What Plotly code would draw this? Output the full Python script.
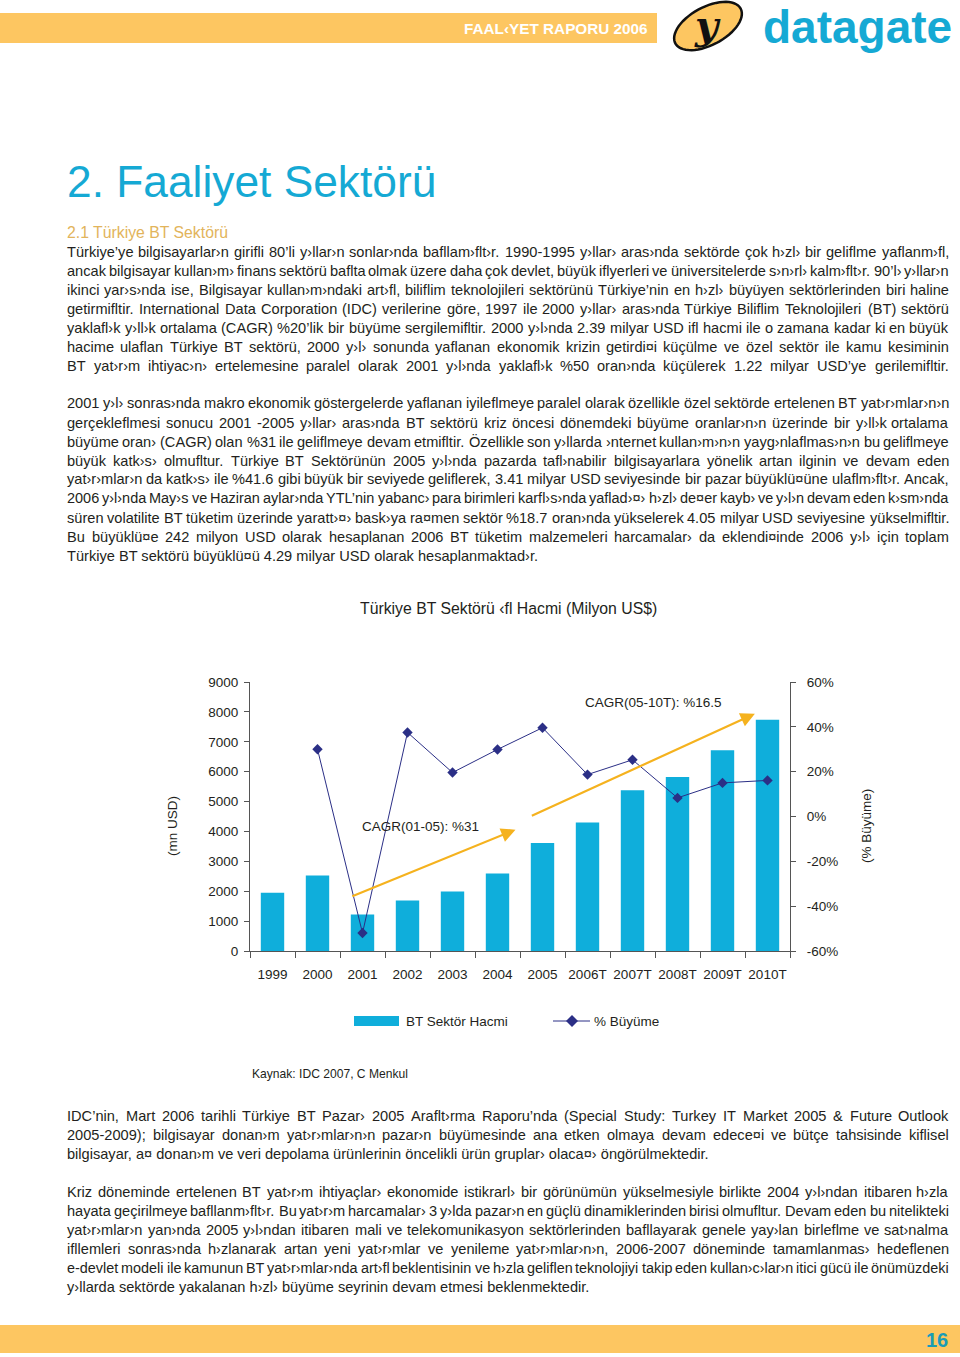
import numpy as np
import plotly.graph_objects as go

# ---------------- data ----------------
years = ["1999", "2000", "2001", "2002", "2003", "2004", "2005",
         "2006T", "2007T", "2008T", "2009T", "2010T"]
volume = [1950, 2530, 1220, 1690, 1990, 2590, 3610, 4300, 5380, 5820, 6720, 7740]
growth = [None, 30.0, -52.0, 37.5, 19.6, 29.9, 39.6, 18.7, 25.3, 8.3, 15.0, 16.1]
left_ticks = list(range(0, 9001, 1000))
right_ticks = [-60, -40, -20, 0, 20, 40, 60]
right_labels = ["-60%", "-40%", "-20%", "0%", "20%", "40%", "60%"]

para1 = [
    "Türkiye’ye bilgisayarlar›n girifli 80’li y›llar›n sonlar›nda bafllam›flt›r. 1990-1995 y›llar› aras›nda sektörde çok h›zl› bir geliflme yaflanm›fl,",
    "ancak bilgisayar kullan›m› finans sektörü baflta olmak üzere daha çok devlet, büyük iflyerleri ve üniversitelerde s›n›rl› kalm›flt›r. 90’l› y›llar›n",
    "ikinci yar›s›nda ise, Bilgisayar kullan›m›ndaki art›fl, biliflim teknolojileri sektörünü Türkiye’nin en h›zl› büyüyen sektörlerinden biri haline",
    "getirmifltir. International Data Corporation (IDC) verilerine göre, 1997 ile 2000 y›llar› aras›nda Türkiye Biliflim Teknolojileri (BT) sektörü",
    "yaklafl›k y›ll›k ortalama (CAGR) %20’lik bir büyüme sergilemifltir. 2000 y›l›nda 2.39 milyar USD ifl hacmi ile o zamana kadar ki en büyük",
    "hacime ulaflan Türkiye BT sektörü, 2000 y›l› sonunda yaflanan ekonomik krizin getirdi¤i küçülme ve özel sektör ile kamu kesiminin",
    "BT yat›r›m ihtiyac›n› ertelemesine paralel olarak 2001 y›l›nda yaklafl›k %50 oran›nda küçülerek 1.22 milyar USD’ye gerilemifltir.",
]
para2 = [
    "2001 y›l› sonras›nda makro ekonomik göstergelerde yaflanan iyileflmeye paralel olarak özellikle özel sektörde ertelenen BT yat›r›mlar›n›n",
    "gerçekleflmesi sonucu 2001 -2005 y›llar› aras›nda BT sektörü kriz öncesi dönemdeki büyüme oranlar›n›n üzerinde bir y›ll›k ortalama",
    "büyüme oran› (CAGR) olan %31 ile geliflmeye devam etmifltir. Özellikle son y›llarda ›nternet kullan›m›n›n yayg›nlaflmas›n›n bu geliflmeye",
    "büyük katk›s› olmufltur. Türkiye BT Sektörünün 2005 y›l›nda pazarda tafl›nabilir bilgisayarlara yönelik artan ilginin ve devam eden",
    "yat›r›mlar›n da katk›s› ile %41.6 gibi büyük bir seviyede geliflerek, 3.41 milyar USD seviyesinde bir pazar büyüklü¤üne ulaflm›flt›r. Ancak,",
    "2006 y›l›nda May›s ve Haziran aylar›nda YTL’nin yabanc› para birimleri karfl›s›nda yaflad›¤› h›zl› de¤er kayb› ve y›l›n devam eden k›sm›nda",
    "süren volatilite BT tüketim üzerinde yaratt›¤› bask›ya ra¤men sektör %18.7 oran›nda yükselerek 4.05 milyar USD seviyesine yükselmifltir.",
    "Bu büyüklü¤e 242 milyon USD olarak hesaplanan 2006 BT tüketim malzemeleri harcamalar› da eklendi¤inde 2006 y›l› için toplam",
    "Türkiye BT sektörü büyüklü¤ü 4.29 milyar USD olarak hesaplanmaktad›r.",
]
para3 = [
    "IDC’nin, Mart 2006 tarihli Türkiye BT Pazar› 2005 Araflt›rma Raporu’nda (Special Study: Turkey IT Market 2005 & Future Outlook",
    "2005-2009); bilgisayar donan›m yat›r›mlar›n›n pazar›n büyümesinde ana etken olmaya devam edece¤i ve bütçe tahsisinde kiflisel",
    "bilgisayar, a¤ donan›m ve veri depolama ürünlerinin öncelikli ürün gruplar› olaca¤› öngörülmektedir.",
]
para4 = [
    "Kriz döneminde ertelenen BT yat›r›m ihtiyaçlar› ekonomide istikrarl› bir görünümün yükselmesiyle birlikte 2004 y›l›ndan itibaren h›zla",
    "hayata geçirilmeye bafllanm›flt›r. Bu yat›r›m harcamalar› 3 y›lda pazar›n en güçlü dinamiklerinden birisi olmufltur. Devam eden bu nitelikteki",
    "yat›r›mlar›n yan›nda 2005 y›l›ndan itibaren mali ve telekomunikasyon sektörlerinden bafllayarak genele yay›lan birleflme ve sat›nalma",
    "ifllemleri sonras›nda h›zlanarak artan yeni yat›r›mlar ve yenileme yat›r›mlar›n›n, 2006-2007 döneminde tamamlanmas› hedeflenen",
    "e-devlet modeli ile kamunun BT yat›r›mlar›nda art›fl beklentisinin ve h›zla geliflen teknolojiyi takip eden kullan›c›lar›n itici gücü ile önümüzdeki",
    "y›llarda sektörde yakalanan h›zl› büyüme seyrinin devam etmesi beklenmektedir.",
]

# ---------------- styling ----------------
W_PX, H_PX = 960, 1357
FONT = "Liberation Sans, Arial, Helvetica, sans-serif"
BODY = "#231F20"
CYAN = "#15A9D4"
BAR = "#0FAEDB"
NAVY = "#2B2F86"
ORANGE = "#F5B21E"
BAND = "#FDC661"
AXIS = "#555555"
BODY_FS = 14.6


def X(px):
    return px / W_PX


def Y(py):
    return 1 - py / H_PX


# Arial / Liberation Sans advance widths (1/1000 em)
AW = {}
for chars, w in [("'", 191), ("ijl’‘", 222), (" !,./:;I[]\\ft", 278), ("()-r`›‹", 333),
                 ('"', 355), ("*", 389), ("ckJsvxyzç", 500),
                 ("0123456789$#?_abdeghnopqüöuL¤", 556), ("+<=>", 584), ("FTZ", 611),
                 ("ABEKPSVXY&", 667), ("wCDHNRUÇÜ", 722), ("GOQÖ", 778), ("mM", 833),
                 ("%", 889), ("W", 944), ("@", 1015)]:
    for c in chars:
        AW[c] = w


def tw(s):
    return sum(AW.get(c, 556) for c in s) / 1000.0


annotations = []


def esc(s):
    return s.replace("&", "&amp;")


def txt(x, y, s, size, anchor="left", color=BODY, **kw):
    d = dict(x=X(x), y=Y(y), xref="paper", yref="paper", text=esc(s), showarrow=False,
             xanchor=anchor, yanchor="middle", borderpad=0, borderwidth=0,
             font=dict(family=kw.pop("family", FONT), size=size, color=color,
                       **kw.pop("fontkw", {})))
    d.update(kw)
    annotations.append(d)


def line_of_text(s, y, justify=True, fs=BODY_FS, left=67, right=949):
    words = s.split()
    if not justify or len(words) < 2:
        txt(left, y, s, fs)
        return
    ww = [tw(w) for w in words]
    avail = right - left
    size = fs
    gap = (avail - sum(ww) * size) / (len(words) - 1)
    if gap < 0.2 * size:
        size = avail / (sum(ww) + 0.2 * (len(words) - 1))
        gap = 0.2 * size
    x = left
    for i, (w, wd) in enumerate(zip(words, ww)):
        if i == len(words) - 1:
            txt(right, y, w, size, anchor="right")
        else:
            txt(x, y, w, size, anchor="left")
        x += wd * size + gap


def paragraph(lines, y0, last_justified=False, step=19.0):
    for i, s in enumerate(lines):
        last = i == len(lines) - 1
        line_of_text(s, y0 + i * step, justify=(not last) or last_justified)


# ---------------- figure ----------------
fig = go.Figure()
fig.add_trace(go.Bar(x=years, y=volume, name="BT Sektör Hacmi", marker=dict(color=BAR, line=dict(width=0)),
                     width=0.52, xaxis="x", yaxis="y", showlegend=False))
fig.add_trace(go.Scatter(x=years, y=growth, name="% Büyüme", mode="lines+markers",
                         line=dict(color=NAVY, width=1),
                         marker=dict(symbol="diamond", size=8, color=NAVY),
                         xaxis="x", yaxis="y2", showlegend=False))

# chart annotations (data coordinates)
annotations.append(dict(x=5.40, y=4060, ax=1.74, ay=1810, xref="x", yref="y", axref="x", ayref="y",
                        text="", showarrow=True, arrowhead=2, arrowsize=1.3, arrowwidth=2.2,
                        arrowcolor=ORANGE, standoff=0, startstandoff=0))
annotations.append(dict(x=10.72, y=7940, ax=5.73, ay=4500, xref="x", yref="y", axref="x", ayref="y",
                        text="", showarrow=True, arrowhead=2, arrowsize=1.3, arrowwidth=2.2,
                        arrowcolor=ORANGE, standoff=0, startstandoff=0))
annotations.append(dict(x=3.28, y=4180, xref="x", yref="y", text="CAGR(01-05): %31", showarrow=False,
                        font=dict(family=FONT, size=13.5, color=BODY)))
annotations.append(dict(x=8.46, y=8330, xref="x", yref="y", text="CAGR(05-10T): %16.5", showarrow=False,
                        font=dict(family=FONT, size=13.5, color=BODY)))

# page text
txt(648, 28, "FAAL‹YET RAPORU 2006", 15.3, anchor="right", color="white", fontkw=dict(weight="bold"))
txt(952, 27, "datagate", 46, anchor="right", color=CYAN, fontkw=dict(weight="bold"))
txt(707, 25, "y", 40, anchor="center", color="#111111", family="DejaVu Serif, serif",
    fontkw=dict(weight="bold", style="italic"))
txt(67, 181, "2. Faaliyet Sektörü", 44.3, color=CYAN)
txt(67, 232, "2.1 Türkiye BT Sektörü", 15.8, color="#E2B45B")
paragraph(para1, 252, last_justified=True)
paragraph(para2, 403.5)
txt(509, 608, "Türkiye BT Sektörü ‹fl Hacmi (Milyon US$)", 15.8, anchor="center")
txt(172, 826, "(mn USD)", 13.5, anchor="center", textangle=-90)
txt(866, 826, "(% Büyüme)", 13.5, anchor="center", textangle=-90)
txt(406, 1021, "BT Sektör Hacmi", 13.5)
txt(594, 1021, "% Büyüme", 13.5)
txt(252, 1074, "Kaynak: IDC 2007, C Menkul", 12.1)
paragraph(para3, 1116)
paragraph(para4, 1192)
txt(948, 1340, "16", 20, anchor="right", color="#1A9CB6", fontkw=dict(weight="bold"))

# decorative shapes
t = np.linspace(0, 2 * np.pi, 60)
cx, cy, rx, ry, ang = 708, 26, 37, 19, np.deg2rad(-28)
ex = cx + rx * np.cos(t) * np.cos(ang) - ry * np.sin(t) * np.sin(ang)
ey = cy + rx * np.cos(t) * np.sin(ang) + ry * np.sin(t) * np.cos(ang)
ell_path = "M" + " L".join(f"{X(a):.5f},{Y(b):.5f}" for a, b in zip(ex, ey)) + " Z"

shapes = [
    dict(type="rect", xref="paper", yref="paper", x0=0, x1=X(657), y0=Y(43), y1=Y(13),
         fillcolor=BAND, line=dict(width=0), layer="below"),
    dict(type="rect", xref="paper", yref="paper", x0=0, x1=1, y0=Y(1353), y1=Y(1325),
         fillcolor=BAND, line=dict(width=0), layer="below"),
    dict(type="path", xref="paper", yref="paper", path=ell_path, fillcolor=BAND,
         line=dict(color="#111111", width=2.5), layer="below"),
    # legend
    dict(type="rect", xref="paper", yref="paper", x0=X(354), x1=X(399), y0=Y(1026), y1=Y(1016),
         fillcolor=BAR, line=dict(width=0)),
    dict(type="line", xref="paper", yref="paper", x0=X(553), x1=X(590), y0=Y(1021), y1=Y(1021),
         line=dict(color=NAVY, width=1)),
    dict(type="path", xref="paper", yref="paper",
         path=f"M{X(572)},{Y(1015)} L{X(578)},{Y(1021)} L{X(572)},{Y(1027)} L{X(566)},{Y(1021)} Z",
         fillcolor=NAVY, line=dict(width=0)),
]

fig.update_layout(
    width=W_PX, height=H_PX, margin=dict(l=0, r=0, t=0, b=0, pad=0, autoexpand=False),
    paper_bgcolor="white", plot_bgcolor="white",
    font=dict(family=FONT, color=BODY),
    showlegend=False, bargap=0.48,
    xaxis=dict(domain=[X(250), X(790)], anchor="y", type="category", categoryorder="array",
               categoryarray=years, range=[-0.5, 11.5], showline=True, linecolor=AXIS, linewidth=1,
               ticks="outside", tickson="boundaries", ticklen=6, tickcolor=AXIS, tickwidth=1,
               tickangle=0, tickfont=dict(size=13.5, color=BODY), ticklabelstandoff=11,
               showgrid=False, zeroline=False, fixedrange=True, automargin=False),
    yaxis=dict(domain=[Y(951), Y(682)], anchor="x", range=[0, 9000], tickvals=left_ticks,
               showline=True, linecolor=AXIS, linewidth=1, ticks="outside", ticklen=5,
               tickcolor=AXIS, tickfont=dict(size=13.5, color=BODY), ticklabelstandoff=3,
               showgrid=False, zeroline=False, fixedrange=True, automargin=False),
    yaxis2=dict(domain=[Y(951), Y(682)], anchor="x", overlaying="y", side="right",
                range=[-60, 60], tickvals=right_ticks, ticktext=right_labels,
                showline=True, linecolor=AXIS, linewidth=1, ticks="outside", ticklen=5,
                tickcolor=AXIS, tickfont=dict(size=13.5, color=BODY), ticklabelstandoff=8,
                showgrid=False, zeroline=False, fixedrange=True, automargin=False),
    annotations=annotations,
    shapes=shapes,
)

fig.write_html(
    "out.html",
    config={"displayModeBar": False},
    post_script=(
        "document.documentElement.style.margin='0';document.documentElement.style.padding='0';"
        "document.documentElement.style.overflow='hidden';"
        "document.body.style.margin='0';document.body.style.padding='0';"
        "document.body.style.overflow='hidden';"
    ),
)
